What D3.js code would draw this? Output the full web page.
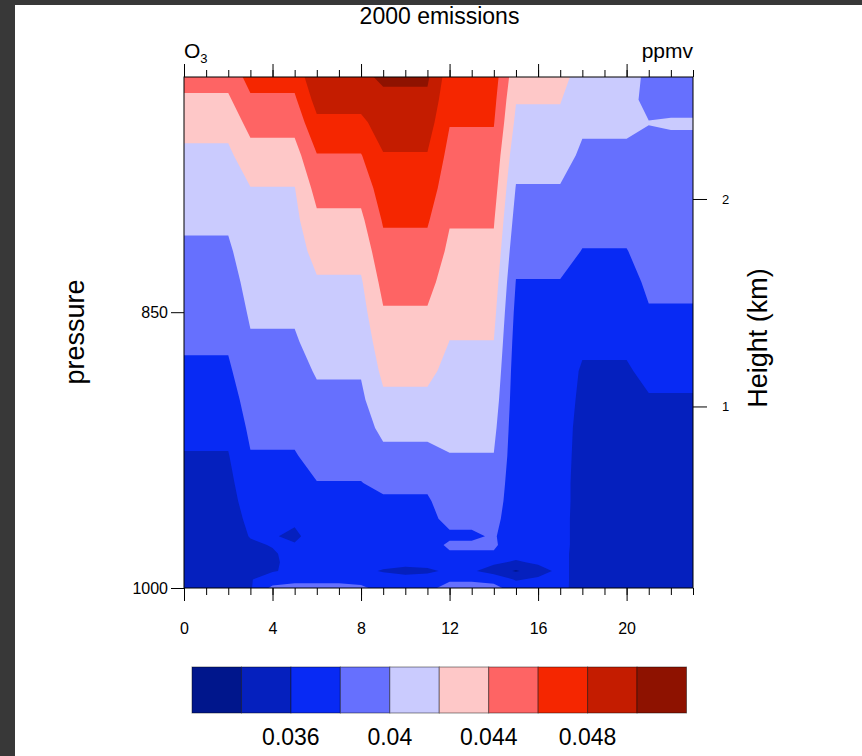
<!DOCTYPE html>
<html><head><meta charset="utf-8">
<script src="https://cdn.jsdelivr.net/npm/d3@7"></script>
<style>
html,body{margin:0;padding:0;background:#fff;}
svg{display:block;}
text{font-family:"Liberation Sans", Arial, Helvetica, sans-serif;fill:#000;}
</style></head>
<body><svg id="chart" width="862" height="756"></svg>
<script>
// ---------------- DATA ----------------
const hours = [0,1,2,3,4,5,6,7,8,9,10,11,12,13,14,15,16,17,18,19,20,21,22,23];
// pressure levels (hPa), top to bottom
const levels = [740,750,760,775,790,805,820,835,850,865,880,895,910,925,940,950,960,970,975,980,985,990,995,1000];
// O3 mixing ratio, units of 1e-4 ppmv; one row per level (same order as levels), one column per hour
const o3 = [
 [447,447,447,467,467,467,496,496,496,503,503,503,469,469,469,427,427,427,411,411,411,394,394,394],
 [437,437,437,457,457,457,487,487,487,496,496,496,465,465,465,421,421,421,407,407,407,394,394,394],
 [427,427,427,447,447,447,476,476,476,489,489,489,461,461,461,416,416,416,403,403,403,400.5,401.5,401.5],
 [416,416,416,432,432,432,459,459,459,479,479,479,454,454,454,407,407,407,397,397,397,395,395,395],
 [410,410,410,419.5,419.5,419.5,447,447,447,470.5,470.5,470.5,448,448,448,399,399,399,391,391,391,393,393,393],
 [403,403,403,415,415,415,436,436,436,462,462,462,441.5,441.5,441.5,392.4,392.4,392.4,385,385,385,389,389,389],
 [397,397,397,411,411,411,426.5,426.5,426.5,454,454,454,436,436,436,385.7,385.7,385.7,379.5,379.5,379.5,386,386,386],
 [392,392,392,406.5,406.5,406.5,418,418,418,446,446,446,430.4,430.4,430.4,379.4,379.4,379.4,374,374,374,383,383,383],
 [387,387,387,402.5,402.5,402.5,412.6,412.6,412.6,438.4,438.4,438.4,425,425,425,375,375,375,368.6,368.6,368.6,378.8,378.8,378.8],
 [382.5,382.5,382.5,398,398,398,407,407,407,431.4,431.4,431.4,419.7,419.7,419.7,372,372,372,363.3,363.3,363.3,371.6,371.6,371.6],
 [377,377,377,393,393,393,401.7,401.7,401.7,424.5,424.5,424.5,414.5,414.5,414.5,370,370,370,358,358,358,364.6,364.6,364.6],
 [371,371,371,388.4,388.4,388.4,396,396,396,416.3,416.3,416.3,409.5,409.5,409.5,369,369,369,356,356,356,358.6,358.6,358.6],
 [365,365,365,383.7,383.7,383.7,390.6,390.6,390.6,405.4,405.4,405.4,404.4,404.4,404.4,368,368,368,354,354,354,355,355,355],
 [359,359,359,379,379,379,385,385,385,394.6,394.6,394.6,399.5,399.5,399.5,367.5,367.5,367.5,353,353,353,353,353,353],
 [355,355,355,372.7,372.7,372.7,379.6,379.6,379.6,383.6,383.6,383.6,393.5,393.5,393.5,367,367,367,352,352,352,352,352,352],
 [353,353,353,368.7,368.7,368.7,376.5,376.5,376.5,377.8,377.8,377.8,390,390,390,367,367,367,352,352,352,351,351,351],
 [351,351,351,364.7,364.7,364.7,374,374,374,375,375,375,385,385,386,367,367,367,351,351,351,351,351,351],
 [350,350,350,361,362,355,372,372,372,373,373,373,377,377,382,367,367,367,351,351,351,350,350,350],
 [350,350,350,357,361,362,371,371,371,372,372,372,383,383,383,367,367,367,351,351,351,350,350,350],
 [349,349,349,354,358,366,370,370,370,371,371,371,378,378,378,368,368,366,351,351,351,350,350,350],
 [348,348,348,354,358,364,369,369,369,368,368,368,371,368,364,357,364,366,351,351,351,350,350,350],
 [348,348,348,356,359,363,368,368,366,358,352,356,364,363,350,338,350,366,351,351,351,350,350,350],
 [350,350,350,359,368,375,375,375,373,370,370,370,377,377,375,358,364,366,351,351,351,350,350,350],
 [352,352,352,358,385,386,386,386,384,372,372,374,388,388,385,372,370,365,352,352,352,351,351,351]
];
const thresholds = [0.034,0.036,0.038,0.040,0.042,0.044,0.046,0.048,0.050];
const bandColors = ["#00168c","#0520be","#082af4","#6670fe","#cacbfe","#fec8c8","#fe6464","#f52600","#c41c00","#8e1200"];
const colorbarEnds = [0.032, 0.052];
const colorbarLabels = [0.036, 0.04, 0.044, 0.048];
const hourMajorTicks = [0,4,8,12,16,20];
const pressureTicks = [850, 1000];
const heightTicks = [1, 2];
const heightRange = [0.125, 2.588]; // km at bottom / top of plot

// ---------------- LAYOUT ----------------
const svg = d3.select("#chart");
const L = 184, R = 693, T = 77, B = 588;

svg.append("rect").attr("x",0).attr("y",0).attr("width",862).attr("height",5).attr("fill","#383838");
svg.append("rect").attr("x",0).attr("y",0).attr("width",15).attr("height",756).attr("fill","#383838");

const x = d3.scaleLinear().domain([hours[0], hours[hours.length-1]]).range([L, R]);
const y = d3.scaleLog().domain([1000, 740]).range([B, T]);
const z = d3.scaleLinear().domain(heightRange).range([B, T]);

// ---------------- CONTOURS ----------------
const nx = hours.length, ny = levels.length;
const values = [];
for (let j = 0; j < ny; j++) for (let i = 0; i < nx; i++) values.push(o3[j][i] / 1e4);
const contours = d3.contours().size([nx, ny]).thresholds(thresholds)(values);

function gx2px(g){
  const f = Math.max(0, Math.min(nx - 1, g - 0.5));
  const i0 = Math.min(nx - 2, Math.floor(f)), t = f - i0;
  return x(hours[i0] + t * (hours[i0 + 1] - hours[i0]));
}
function gy2px(g){
  const f = Math.max(0, Math.min(ny - 1, g - 0.5));
  const j0 = Math.min(ny - 2, Math.floor(f)), t = f - j0;
  return y(levels[j0]) + t * (y(levels[j0 + 1]) - y(levels[j0]));
}
const path = d3.geoPath(d3.geoTransform({point(a, b){ this.stream.point(gx2px(a), gy2px(b)); }}));

svg.append("clipPath").attr("id","plotclip").append("rect")
  .attr("x",L).attr("y",T).attr("width",R-L).attr("height",B-T);
const plot = svg.append("g").attr("clip-path","url(#plotclip)");
plot.append("rect").attr("x",L).attr("y",T).attr("width",R-L).attr("height",B-T).attr("fill",bandColors[0]);
plot.selectAll("path.band").data(contours).join("path")
  .attr("class","band")
  .attr("d", path)
  .attr("fill", (d,i) => bandColors[i+1]);

// frame
svg.append("rect").attr("x",L).attr("y",T).attr("width",R-L).attr("height",B-T)
  .attr("fill","none").attr("stroke","#000").attr("stroke-width",1);

// ---------------- AXES ----------------
function styleAxis(g){
  g.select(".domain").remove();
  g.selectAll(".tick line").attr("stroke","#000").attr("stroke-width",1);
  g.selectAll(".tick text").attr("fill","#000").style("font-family",'"Liberation Sans", Arial, sans-serif');
}
// bottom
svg.append("g").attr("transform",`translate(0,${B})`)
  .call(d3.axisBottom(x).tickValues(hours).tickSize(7).tickFormat(""))
  .call(styleAxis);
svg.append("g").attr("transform",`translate(0,${B})`)
  .call(d3.axisBottom(x).tickValues(hourMajorTicks).tickSize(13).tickPadding(22).tickFormat(d3.format("d")))
  .call(styleAxis)
  .call(g => g.selectAll(".tick text").style("font-size","16px"));
// top
svg.append("g").attr("transform",`translate(0,${T})`)
  .call(d3.axisTop(x).tickValues(hours).tickSize(7).tickFormat(""))
  .call(styleAxis);
svg.append("g").attr("transform",`translate(0,${T})`)
  .call(d3.axisTop(x).tickValues(hourMajorTicks).tickSize(13).tickFormat(""))
  .call(styleAxis);
// left
svg.append("g").attr("transform",`translate(${L},0)`)
  .call(d3.axisLeft(y).tickValues(pressureTicks).tickSize(13).tickPadding(3).tickFormat(d3.format("d")))
  .call(styleAxis)
  .call(g => g.selectAll(".tick text").style("font-size","16px"));
// right
svg.append("g").attr("transform",`translate(${R},0)`)
  .call(d3.axisRight(z).tickValues(heightTicks).tickSize(14).tickPadding(15).tickFormat(d3.format("d")))
  .call(styleAxis)
  .call(g => g.selectAll(".tick text").style("font-size","13px"));

// ---------------- TEXT ----------------
svg.append("text").attr("x",439.5).attr("y",24).attr("text-anchor","middle")
  .style("font-size","23px").text("2000 emissions");
const o3t = svg.append("text").attr("x",L).attr("y",58).style("font-size","21px");
o3t.append("tspan").text("O");
o3t.append("tspan").attr("dy",5).style("font-size","13px").text("3");
svg.append("text").attr("x",R).attr("y",58).attr("text-anchor","end")
  .style("font-size","21px").text("ppmv");
svg.append("text").attr("transform","translate(84,332) rotate(-90)").attr("text-anchor","middle")
  .style("font-size","27px").text("pressure");
svg.append("text").attr("transform","translate(767,338) rotate(-90)").attr("text-anchor","middle")
  .style("font-size","27px").text("Height (km)");

// ---------------- COLORBAR ----------------
const cb = d3.scaleLinear().domain(colorbarEnds).range([192, 686.5]);
const edges = [colorbarEnds[0], ...thresholds, colorbarEnds[1]];
const cbg = svg.append("g");
cbg.selectAll("rect").data(bandColors).join("rect")
  .attr("x",(d,i) => cb(edges[i])).attr("y",667)
  .attr("width",(d,i) => cb(edges[i+1]) - cb(edges[i])).attr("height",46)
  .attr("fill", d => d).attr("stroke","rgba(0,0,0,0.45)").attr("stroke-width",1);
cbg.selectAll("text").data(colorbarLabels).join("text")
  .attr("x", d => cb(d)).attr("y",745).attr("text-anchor","middle")
  .style("font-size","23px").text(d => d3.format("")(+d.toFixed(3)));
</script>
</body></html>
